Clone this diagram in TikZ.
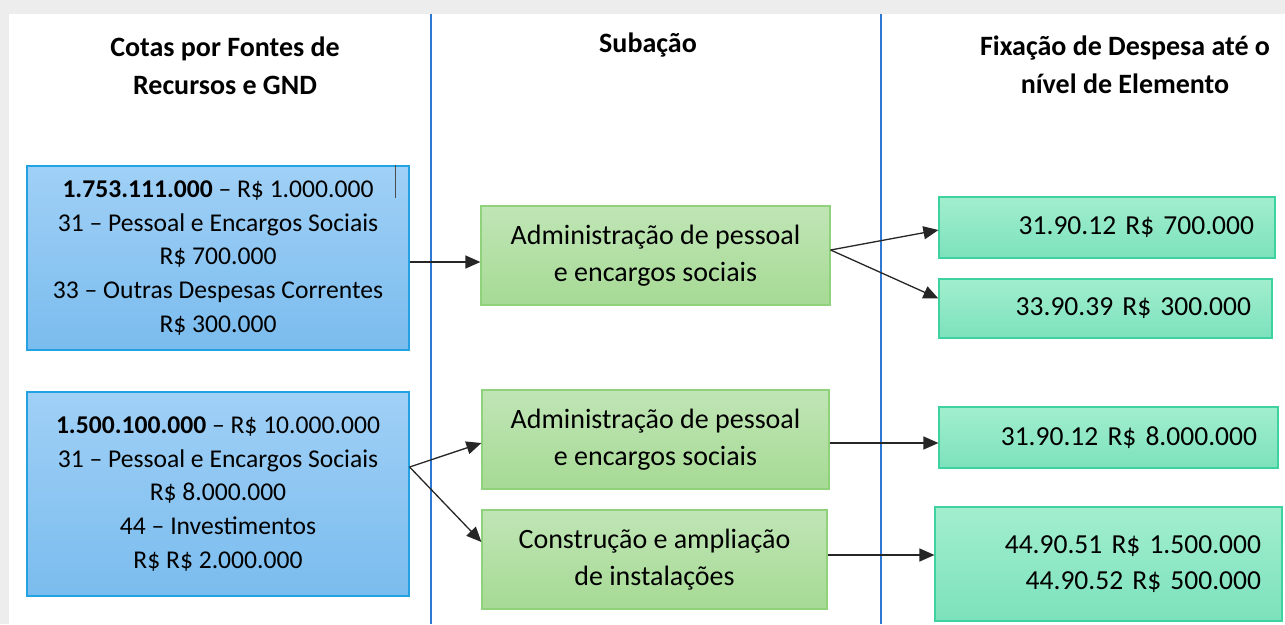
\documentclass[tikz,border=0pt]{standalone}
\usepackage{fontspec}
\setmainfont{Carlito}
\usetikzlibrary{arrows.meta,calc}
\definecolor{sepblue}{HTML}{2E78D2}
\definecolor{bluetop}{HTML}{A0D0F6}
\definecolor{bluebot}{HTML}{7ABCEE}
\definecolor{blueedge}{HTML}{22A2E2}
\definecolor{greentop}{HTML}{C0E5B6}
\definecolor{greenbot}{HTML}{A6DA94}
\definecolor{greenedge}{HTML}{90D27C}
\definecolor{tealtop}{HTML}{A2EECE}
\definecolor{tealbot}{HTML}{7CE2BC}
\definecolor{tealedge}{HTML}{3ED2A0}
\tikzset{
  head/.style={font=\fontsize{28}{38}\selectfont\bfseries, align=center, inner sep=0pt},
  cotabox/.style={draw=blueedge, line width=1.2pt, top color=bluetop, bottom color=bluebot, align=center, inner sep=0pt, font=\fontsize{25.6}{33.8}\selectfont},
  subbox/.style={draw=greenedge, line width=1.2pt, top color=greentop, bottom color=greenbot, align=center, inner sep=0pt, font=\fontsize{28}{36.5}\selectfont},
  elbox/.style={draw=tealedge, line width=1.2pt, top color=tealtop, bottom color=tealbot, align=right, inner ysep=0pt, inner xsep=21pt, font=\fontsize{27.5}{36}\selectfont},
  arr/.style={-{Triangle[length=15pt,width=13pt]}, line width=1.3pt, draw=black!85},
  sep/.style={draw=sepblue, line width=2.2pt}
}
\begin{document}
\begin{tikzpicture}[x=1pt,y=-1pt]
\useasboundingbox (0,0) rectangle (1285,624);
\fill[black!7] (0,0) rectangle (1285,624);
\fill[white] (9,14) rectangle (1285,624);
% separators
\coordinate (s1t) at (431,14); \coordinate (s1b) at (431,624);
\coordinate (s2t) at (881,14); \coordinate (s2b) at (881,624);
\draw[sep] (s1t) -- (s1b);
\draw[sep] (s2t) -- (s2b);
% headers
\node[head] (h1) at (225,66) {Cotas por Fontes de\\Recursos e GND};
\node[head] (h2) at (648,45) {Subação};
\node[head] (h3) at (1125,65) {Fixação de Despesa até o\\nível de Elemento};
% cotas
\node[cotabox, minimum width=382pt, minimum height=184pt] (b1) at (218,258)
  {\textbf{1.753.111.000} – R\$ 1.000.000\\31 – Pessoal e Encargos Sociais\\R\$ 700.000\\33 – Outras Despesas Correntes\\R\$ 300.000};
\node[cotabox, minimum width=382pt, minimum height=204pt] (b2) at (218,494)
  {\textbf{1.500.100.000} – R\$ 10.000.000\\31 – Pessoal e Encargos Sociais\\R\$ 8.000.000\\44 – Investimentos\\R\$ R\$ 2.000.000};
% cursor mark
\coordinate (c1) at (395,165); \coordinate (c2) at (395,198);
\draw[black!70, line width=0.9pt] (c1) -- (c2);
% subacao
\node[subbox, minimum width=349pt, minimum height=99pt] (a) at (655.5,255.5)
  {Administração de pessoal\\e encargos sociais};
\node[subbox, minimum width=347pt, minimum height=99pt] (b) at (655.5,439.5)
  {Administração de pessoal\\e encargos sociais};
\node[subbox, minimum width=345pt, minimum height=99pt] (c) at (654.5,559.5)
  {Construção e ampliação\\de instalações};
% elementos
\node[elbox, text width=294pt, minimum height=61pt] (d1) at (1107,227.5) {31.90.12 R\$ 700.000};
\node[elbox, text width=291pt, minimum height=59pt] (d2) at (1105.5,308.5) {33.90.39 R\$ 300.000};
\node[elbox, text width=297pt, minimum height=61pt] (d3) at (1108.5,437.5) {31.90.12 R\$ 8.000.000};
\node[elbox, text width=305pt, minimum height=114pt] (d4) at (1108.5,564) {44.90.51 R\$ 1.500.000\\44.90.52 R\$ 500.000};
% arrows
\draw[arr] ([yshift=-4pt]b1.east) -- ([yshift=-6.5pt]a.west);
\draw[arr] ([yshift=5.5pt]a.east) -- ([yshift=-2.5pt]d1.west);
\draw[arr] ([yshift=5.5pt]a.east) -- ([yshift=10pt]d2.west);
\draw[arr] ([yshift=27pt]b2.east) -- ([yshift=-3.5pt]b.west);
\draw[arr] ([yshift=27pt]b2.east) -- ([yshift=17.5pt]c.west);
\draw[arr] ([yshift=-3.5pt]b.east) -- ([yshift=-5.5pt]d3.west);
\draw[arr] ([yshift=4.5pt]c.east) -- ([yshift=9pt]d4.west);
\end{tikzpicture}
\end{document}
